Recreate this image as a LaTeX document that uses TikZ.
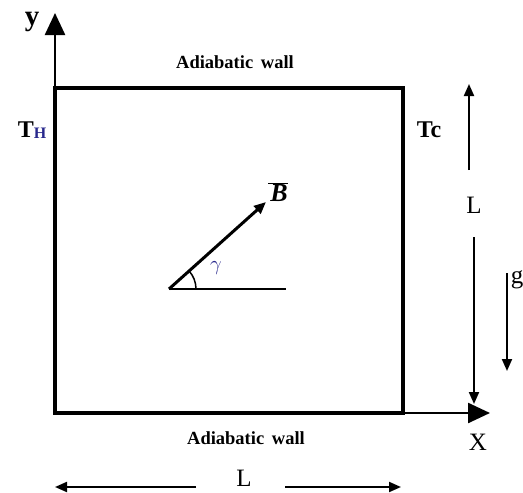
\documentclass[tikz,border=0pt]{standalone}
\usepackage{fontspec}
\setmainfont{Liberation Serif}
\usetikzlibrary{arrows.meta}
\definecolor{gblue}{RGB}{40,40,140}
\tikzset{
  wall/.style={line width=3.5pt, line join=miter},
  axis/.style={line width=2.5pt, -{Triangle[length=22pt,width=20pt]}},
  dim/.style={line width=2pt, -{Triangle[length=12pt,width=10pt]}},
  lab/.style={font=\fontsize{24}{24}\selectfont\bfseries, inner sep=0pt},
  rlab/.style={font=\fontsize{25}{25}\selectfont, inner sep=0pt},
  wlab/.style={font=\fontsize{18.5}{19}\selectfont\bfseries, inner sep=0pt}
}
\begin{document}
\begin{tikzpicture}[x=1pt,y=-1pt]
\useasboundingbox (0,0) rectangle (523,493);
% corners
\coordinate (BL) at (55,413);
\coordinate (BR) at (403,413);
\coordinate (TR) at (403,88);
\coordinate (TL) at (55,88);
\coordinate (ytip) at (55,13);
\coordinate (xtip) at (490,413);
\draw[wall] (BL) -- (BR) -- (TR) -- (TL) -- cycle;
\draw[axis] (TL) -- (ytip);
\draw[axis] (BR) -- (xtip);
\node[lab, font=\fontsize{29}{29}\selectfont\bfseries] (ylab) at (32,22) {y};
\node[rlab] (xlab) at (478,442) {X};
\node[wlab] (top) at (235,62) {Adiabatic\, wall};
\node[wlab] (bot) at (246,438) {Adiabatic\, wall};
\node[lab] (TH) at (32,130) {T\raisebox{-0.15ex}{\textcolor{gblue}{\fontsize{16}{16}\selectfont H}}};
\node[lab] (Tc) at (429,130) {Tc};
% vertical L
\node[rlab] (Lv) at (474,205) {L};
\coordinate (Lvtop) at (469,84);
\coordinate (Lvbot) at (474,404);
\draw[dim] (469,170) -- (Lvtop);
\draw[dim] (474,237) -- (Lvbot);
% horizontal L
\node[rlab] (Lh) at (244,478) {L};
\coordinate (Lhl) at (55,487);
\coordinate (Lhr) at (401,487);
\draw[dim] (196,487) -- (Lhl);
\draw[dim] (285,487) -- (Lhr);
% gravity
\node[rlab] (g) at (517,280) {g};
\coordinate (gtop) at (507,273);
\coordinate (gbot) at (507,371);
\draw[dim] (gtop) -- (gbot);
% magnetic field
\coordinate (C) at (169,289);
\coordinate (Btip) at (266,202);
\coordinate (H) at (286,289);
\draw[line width=2.2pt] (C) -- (H);
\draw[line width=3pt, -{Triangle[length=12pt,width=10pt]}] (C) -- (Btip);
\draw[line width=1.5pt] ([shift={(0:27)}]C) arc[start angle=0, end angle=-41.9, radius=27];
\node[font=\fontsize{22}{22}\selectfont, text=gblue, inner sep=0pt] (gam) at (216,268) {$\gamma$};
\node[inner sep=0pt, font=\fontsize{26}{26}\selectfont\bfseries\itshape] (B) at (278,192) {$\overline{\kern2pt\mbox{B}}$};
\end{tikzpicture}
\end{document}
